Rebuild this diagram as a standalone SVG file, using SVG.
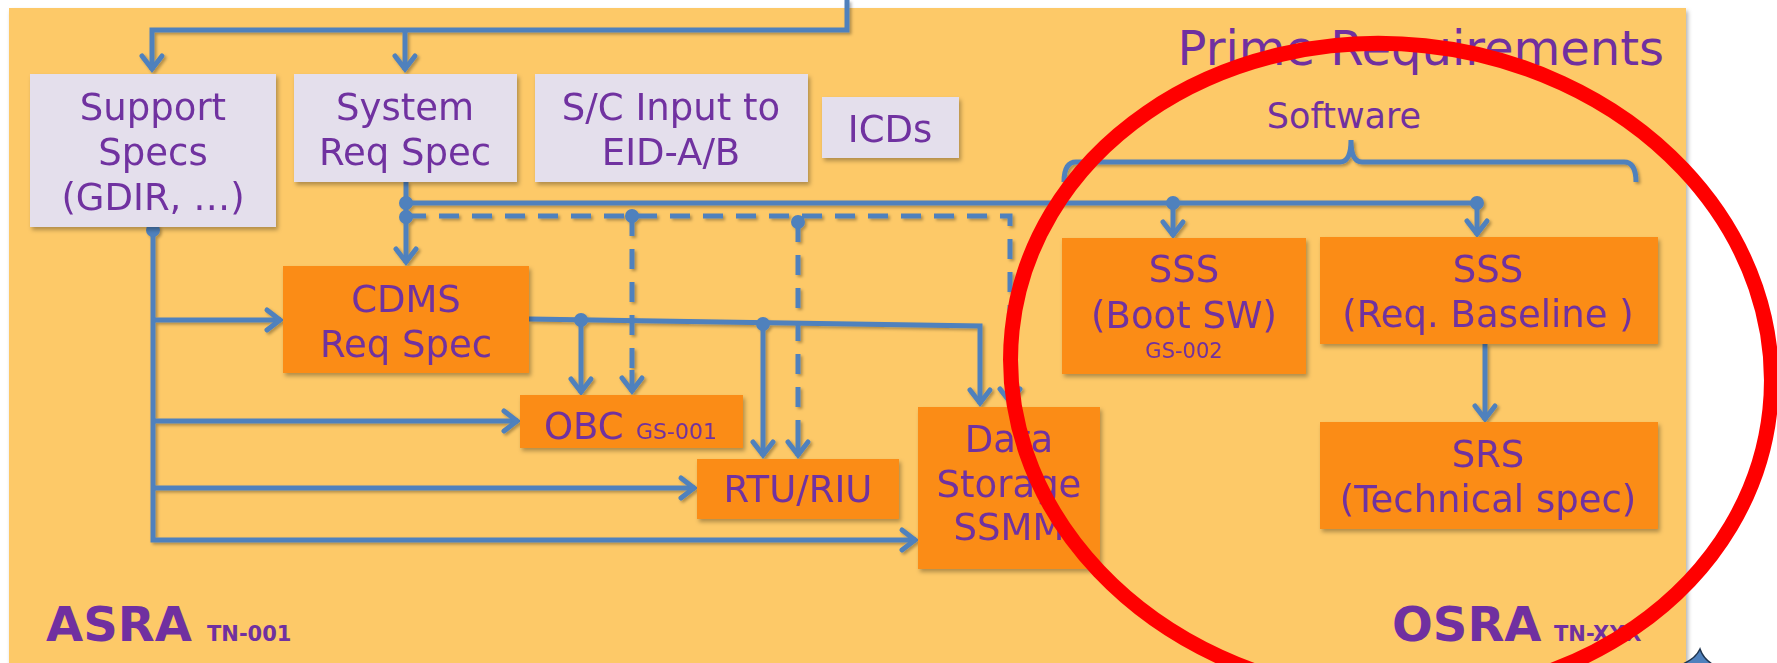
<svg xmlns="http://www.w3.org/2000/svg" width="1777" height="663" viewBox="0 0 1777 663">
<style>
.t{font-family:"DejaVu Sans",Verdana,sans-serif;font-size:37px;fill:#7030A0;text-anchor:middle}
.s{font-size:21px}
.b{font-weight:bold;text-anchor:start}
.lav{fill:#E4DFEC}
.org{fill:#FB8C13}
.ln{fill:none;stroke:#4F81BD;stroke-width:5;stroke-linejoin:miter}
.ar{marker-end:url(#arr)}
.da{stroke-dasharray:20 13}
.dot{fill:#4F81BD}
</style>
<defs>
<filter id="sh" x="-10%" y="-10%" width="130%" height="130%">
<feDropShadow dx="2" dy="3" stdDeviation="2" flood-color="#000" flood-opacity="0.3"/>
</filter>
<filter id="lsh" x="-5%" y="-5%" width="110%" height="110%">
<feDropShadow dx="2" dy="2" stdDeviation="1.5" flood-color="#000" flood-opacity="0.3"/>
</filter>
<marker id="arr" markerUnits="userSpaceOnUse" markerWidth="30" markerHeight="30" viewBox="-20 -15 30 30" refX="0" refY="0" orient="auto">
<path d="M-14,-10 L-1,0 L-14,10" fill="none" stroke="#4F81BD" stroke-width="5" stroke-linecap="round"/>
</marker>
</defs>
<rect width="1777" height="663" fill="#FFFFFF"/>
<rect x="9" y="8" width="1677" height="670" fill="#FDC967" filter="url(#sh)"/>

<g id="connectors" filter="url(#lsh)">
<path class="ln" d="M847,0 V30 H152 V70" stroke-width="6" marker-end="url(#arr)"/>
<path class="ln ar" d="M405,30 V70"/>
<path class="ln" d="M406,182 V203 H1477"/>
<path class="ln ar" d="M406,203 V263"/>
<path class="ln ar" d="M1173,203 V236"/>
<path class="ln ar" d="M1477,203 V235"/>
<path class="ln da" d="M406,216 H1010 V380"/>
<path class="ln ar" d="M1010,380 V403"/>
<path class="ln da" d="M632,216 V370"/>
<path class="ln ar" d="M632,370 V392"/>
<path class="ln da" d="M798,222 V430"/>
<path class="ln ar" d="M798,430 V456"/>
<path class="ln" d="M529,319 L980,326 V370"/>
<path class="ln ar" d="M980,370 V404"/>
<path class="ln ar" d="M581,320 V393"/>
<path class="ln ar" d="M763,323 V456"/>
<path class="ln" d="M153,230 V540 H880"/>
<path class="ln ar" d="M880,540 H916"/>
<path class="ln ar" d="M153,320 H281"/>
<path class="ln ar" d="M153,421 H518"/>
<path class="ln ar" d="M153,488 H695"/>
<path class="ln ar" d="M1485,344 V420"/>
<circle class="dot" cx="153" cy="230" r="7"/>
<circle class="dot" cx="406" cy="203" r="7"/>
<circle class="dot" cx="406" cy="217" r="7"/>
<circle class="dot" cx="632" cy="216" r="7"/>
<circle class="dot" cx="798" cy="222" r="7"/>
<circle class="dot" cx="581" cy="320" r="7"/>
<circle class="dot" cx="763" cy="324" r="7"/>
<circle class="dot" cx="1173" cy="203" r="7"/>
<circle class="dot" cx="1477" cy="203" r="7"/>
<path class="ln" d="M1064,182 Q1064,162 1076,162 L1340,162 Q1351,162 1351,140 Q1351,162 1362,162 L1624,162 Q1636,162 1636,182"/>
</g>

<g id="support" filter="url(#sh)"><rect class="lav" x="30" y="74" width="246" height="153"/>
<text class="t" x="153" y="120">Support</text><text class="t" x="153" y="165">Specs</text><text class="t" x="153" y="210">(GDIR, …)</text></g>
<g id="system" filter="url(#sh)"><rect class="lav" x="294" y="74" width="223" height="108"/>
<text class="t" x="405" y="120">System</text><text class="t" x="405" y="165">Req Spec</text></g>
<g id="scinput" filter="url(#sh)"><rect class="lav" x="535" y="74" width="273" height="108"/>
<text class="t" x="671" y="120">S/C Input to</text><text class="t" x="671" y="165">EID-A/B</text></g>
<g id="icds" filter="url(#sh)"><rect class="lav" x="822" y="97" width="137" height="61"/>
<text class="t" x="890" y="142">ICDs</text></g>
<g id="cdms" filter="url(#sh)"><rect class="org" x="283" y="266" width="246" height="107"/>
<text class="t" x="406" y="312">CDMS</text><text class="t" x="406" y="357">Req Spec</text></g>
<g id="obc" filter="url(#sh)"><rect class="org" x="520" y="395" width="223" height="53"/>
<text class="t" x="544" y="439" style="text-anchor:start">OBC</text><text class="t s" x="636" y="439" style="text-anchor:start;font-size:22px">GS-001</text></g>
<g id="rtu" filter="url(#sh)"><rect class="org" x="697" y="459" width="202" height="60"/>
<text class="t" x="798" y="502">RTU/RIU</text></g>
<g id="datastorage" filter="url(#sh)"><rect class="org" x="918" y="407" width="182" height="162"/>
<text class="t" x="1009" y="452">Data</text><text class="t" x="1009" y="497">Storage</text><text class="t" x="1009" y="540">SSMM</text></g>
<g id="sssboot" filter="url(#sh)"><rect class="org" x="1062" y="238" width="244" height="136"/>
<text class="t" x="1184" y="282">SSS</text><text class="t" x="1184" y="328">(Boot SW)</text><text class="t s" x="1184" y="358">GS-002</text></g>
<g id="sssreq" filter="url(#sh)"><rect class="org" x="1320" y="237" width="338" height="107"/>
<text class="t" x="1488" y="282">SSS</text><text class="t" x="1488" y="327">(Req. Baseline )</text></g>
<g id="srs" filter="url(#sh)"><rect class="org" x="1320" y="422" width="338" height="107"/>
<text class="t" x="1488" y="467">SRS</text><text class="t" x="1488" y="512">(Technical spec)</text></g>

<g id="labels">
<text class="t" x="1664" y="65" style="text-anchor:end;font-size:48px">Prime Requirements</text>
<text class="t" x="1344" y="128" style="font-size:35px">Software</text>
<text class="t b" x="46" y="641" style="font-size:48px">ASRA</text>
<text class="t b" x="207" y="641" style="font-size:21px">TN-001</text>
<text class="t b" x="1392" y="641" style="font-size:48px">OSRA</text>
<text class="t b" x="1554" y="641" style="font-size:21px">TN-XXX</text>
</g>

<path d="M1683,664 Q1696,658 1700,649 Q1703,658 1712,664 Z" fill="#4F81BD" stroke="#1F3550" stroke-width="1.5"/>
<ellipse cx="1391" cy="370" rx="381" ry="326" fill="none" stroke="#FF0000" stroke-width="15" transform="rotate(6 1391 370)"/>
</svg>
